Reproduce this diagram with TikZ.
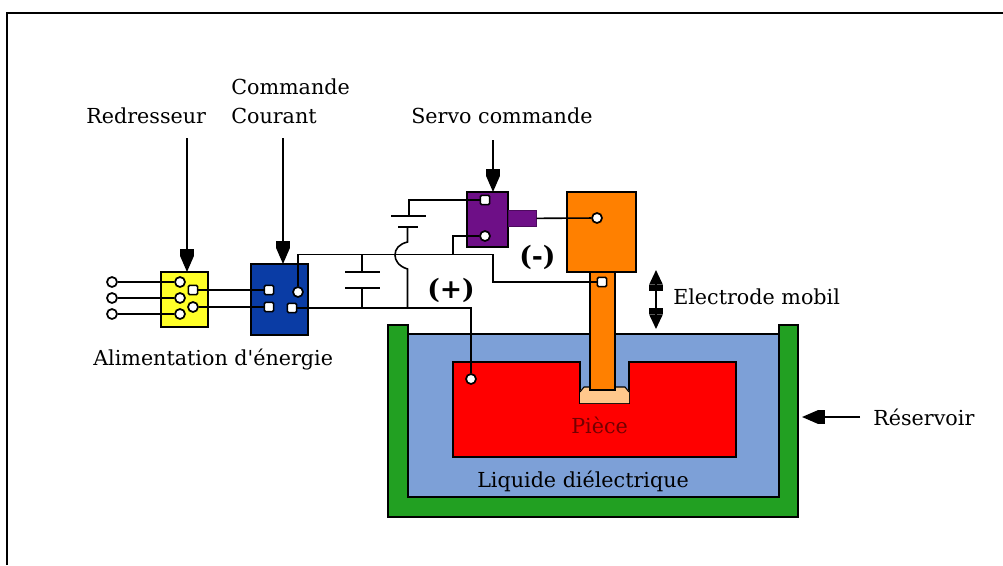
\documentclass[tikz,border=0pt]{standalone}
\usepackage{fontspec}
\setmainfont{DejaVu Serif}
\usetikzlibrary{arrows.meta}
\definecolor{bathgreen}{RGB}{34,160,34}
\definecolor{bathblue}{RGB}{125,160,215}
\definecolor{elecorange}{RGB}{255,128,0}
\definecolor{peach}{RGB}{255,200,140}
\definecolor{servopurple}{RGB}{110,15,135}
\definecolor{cmdblue}{RGB}{10,60,165}
\definecolor{rectyellow}{RGB}{255,255,40}
\tikzset{
  x=0.75pt,y=-0.75pt,
  boxed/.style={draw=black,line width=1.2pt,inner sep=0,outer sep=0,anchor=north west},
  wire/.style={draw=black,line width=1.2pt},
  term/.style={circle,draw=black,fill=white,line width=1.3pt,minimum size=7.5pt,inner sep=0},
  sterm/.style={rectangle,rounded corners=1pt,draw=black,fill=white,line width=1.2pt,minimum size=7pt,inner sep=0},
  label/.style={font=\fontsize{15.5}{17}\selectfont,inner sep=0,anchor=west},
  bigtext/.style={label,font=\fontsize{20}{22}\selectfont\bfseries},
  bigarrow/.style={draw=black,line width=1.3pt,-{Rectangle[length=5pt,width=10pt]Triangle[length=12pt,width=10pt]}},
  dblarrow/.style={draw=black,line width=1.3pt,{Triangle[length=11pt,width=10pt]Rectangle[length=5pt,width=10pt]}-{Rectangle[length=5pt,width=10pt]Triangle[length=11pt,width=10pt]}},
}
\begin{document}
\begin{tikzpicture}
\useasboundingbox (0,0) rectangle (1003,565);
\draw[black,line width=1.5pt] (6.5,565) -- (6.5,12.5) -- (1003,12.5);
% bath
\path[fill=bathgreen,draw=black,line width=1pt] (388,325) -- (408,325) -- (408,497) -- (779,497) -- (779,325) -- (798,325) -- (798,517) -- (388,517) -- cycle;
\path[fill=bathblue,draw=black,line width=1pt] (408,334) rectangle (779,497);
\path[fill=red,draw=black,line width=1.1pt] (453,362) -- (580,362) -- (580,403) -- (629,403) -- (629,362) -- (736,362) -- (736,457) -- (453,457) -- cycle;
\path[fill=peach,draw=none] (580,403) -- (580,391) -- (584,387) -- (625,387) -- (629,391) -- (629,403) -- cycle;
\draw[black,line width=.8pt] (580,392) -- (584,387) -- (625,387) -- (629,392);
% electrode
\node[boxed,fill=elecorange,minimum width=51.75pt,minimum height=60pt] (head) at (567,192) {};
\node[boxed,fill=elecorange,minimum width=18.75pt,minimum height=88.5pt] (rod) at (590,272) {};
% servo
\node[boxed,fill=servopurple,minimum width=30.75pt,minimum height=41.25pt] (servo) at (467,192) {};
\node[fill=servopurple,inner sep=0,anchor=north west,minimum width=21pt,minimum height=12pt,draw=servopurple!70!black,line width=.5pt] (tab) at (508,210) {};
% yellow and blue boxes
\node[boxed,fill=rectyellow,line width=1pt,minimum width=35.25pt,minimum height=41.25pt] (redr) at (161,272) {};
\node[boxed,fill=cmdblue,minimum width=42.75pt,minimum height=53.25pt] (cmd) at (251,264) {};
% terminals
\node[term] (in1) at (112,282) {};
\node[term] (in2) at (112,298) {};
\node[term] (in3) at (112,314) {};
\node[term] (y1) at (180,282) {};
\node[term] (y2) at (180,298) {};
\node[term] (y3) at (180,314) {};
\node[sterm] (y4) at (193,290) {};
\node[term] (y5) at (193,307) {};
\node[sterm] (b1) at (269,290) {};
\node[sterm] (b2) at (269,307) {};
\node[term] (b3) at (298,292) {};
\node[sterm] (b4) at (292,308) {};
\node[sterm] (s1) at (485,200) {};
\node[term] (s2) at (485,236) {};
\node[term] (h1) at (597,218) {};
\node[sterm] (r1) at (602,282) {};
\node[term] (p1) at (471,379) {};
% junction coordinates
\coordinate (capT) at (362,254.5);
\coordinate (capB) at (362,308);
\coordinate (plA1) at (345,272);
\coordinate (plA2) at (380,272);
\coordinate (plB1) at (345,288);
\coordinate (plB2) at (380,288);
\coordinate (capa) at (362,272);
\coordinate (capb) at (362,288);
\coordinate (batT) at (409,200);
\coordinate (batL) at (409,216);
\coordinate (batL1) at (391,216);
\coordinate (batL2) at (426,216);
\coordinate (batS1) at (398,227);
\coordinate (batS2) at (418,227);
\coordinate (batS) at (407.5,227);
\coordinate (jB) at (407.5,308);
\coordinate (jT) at (453,254.5);
% wires
\draw[wire] (in1) -- (y1);
\draw[wire] (in2) -- (y2);
\draw[wire] (in3) -- (y3);
\draw[wire] (y4) -- (b1);
\draw[wire] (y5) -- (b2);
\draw[wire] (b3) -- (298,254.5) -- (capT) -- (jT) -- (493,254.5) -- (493,282) -- (r1);
\draw[wire] (b4) -- (capB) -- (jB) -- (471,308) -- (p1);
\draw[wire] (capT) -- (capa);
\draw[wire] (capb) -- (capB);
\draw[wire] (plA1) -- (plA2);
\draw[wire] (plB1) -- (plB2);
\draw[wire] (jB) -- (407.5,269) .. controls (398,266) and (395,260) .. (395,255) .. controls (395,249) and (399,244) .. (407.5,242) -- (batS);
\draw[wire] (batS1) -- (batS2);
\draw[wire] (batL1) -- (batL2);
\draw[wire] (batL) -- (batT) -- (s1);
\draw[wire] (jT) -- (453,236) -- (s2);
\draw[wire] (tab.east) -- (h1);
% labels
\node[label] (tRedr) at (86,116) {Redresseur};
\node[label] (tCmd) at (231,87) {Commande};
\node[label] (tCou) at (231,116) {Courant};
\node[label] (tServo) at (411,116) {Servo commande};
\node[label] (tAlim) at (93,360) {Alimentation d\textquotesingle énergie};
\node[label] (tElec) at (673,297) {Electrode mobil};
\node[label] (tRes) at (873,417) {Réservoir};
\node[label] (tLiq) at (477,481) {Liquide diélectrique};
\node[label,text=red!45!black] (tPiece) at (571,425) {Pièce};
\node[bigtext] (tPlus) at (427,290) {(+)};
\node[bigtext] (tMinus) at (519,257) {(-)};
% arrows
\coordinate (aR) at (187,138);
\coordinate (aC) at (283,138);
\coordinate (aS) at (493,140);
\coordinate (aE1) at (656,270);
\coordinate (aE2) at (656,329);
\coordinate (aV) at (860,417);
\coordinate (aV2) at (802,417);
\draw[bigarrow] (aR) -- (redr.north -| aR);
\draw[bigarrow] (aC) -- (cmd.north -| aC);
\draw[bigarrow] (aS) -- (servo.north -| aS);
\draw[dblarrow] (aE1) -- (aE2);
\draw[bigarrow] (aV) -- (aV2);
\end{tikzpicture}
\end{document}
